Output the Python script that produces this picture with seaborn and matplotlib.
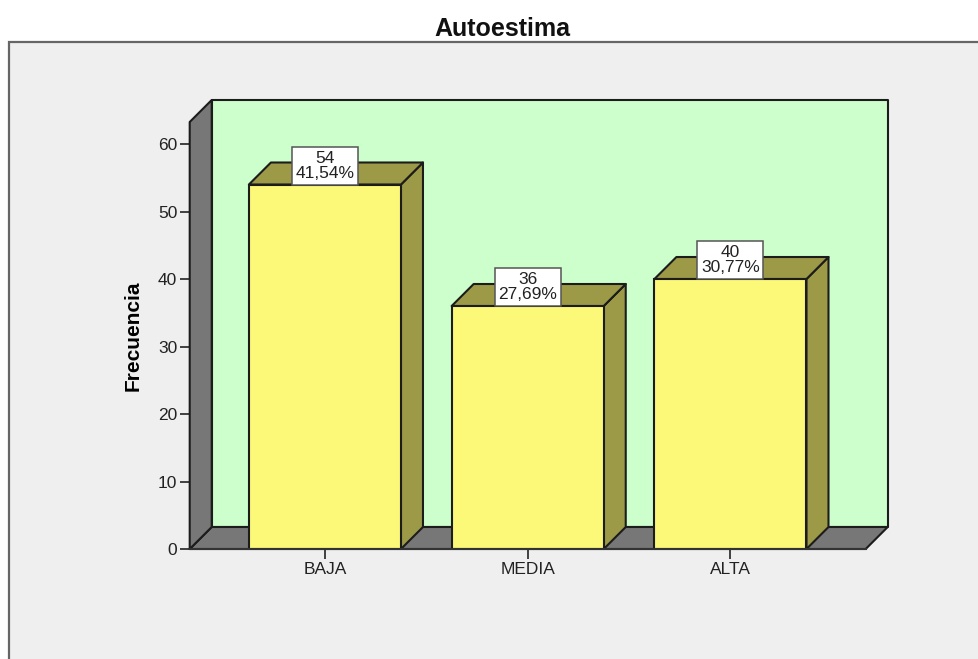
import matplotlib
matplotlib.use("Agg")
import matplotlib.pyplot as plt
import seaborn as sns
import pandas as pd
from matplotlib.patches import Polygon, Rectangle

categories = ["BAJA", "MEDIA", "ALTA"]
counts = [54, 36, 40]
percents = ["41,54%", "27,69%", "30,77%"]
y_ticks = [0, 10, 20, 30, 40, 50, 60]

W, H = 979, 659
DEPTH_PX = 22
BOX_W_PX, BOX_H_PX = 66, 38
EDGE = "#1c1c1c"
WALL = "#777777"
BACK = "#CCFFCC"
PANEL = "#EFEFEF"
BAR = "#FCF878"
SIDE = "#9C9A46"

sns.set_theme(style="white")
plt.rcParams["font.family"] = ["Liberation Sans", "DejaVu Sans"]

fig = plt.figure(figsize=(W / 100, H / 100), dpi=100, facecolor="white")
fig.add_artist(Rectangle((9 / W, -0.1), 1.1, 1.1 - 42 / H, transform=fig.transFigure,
                         facecolor=PANEL, edgecolor="#666666", linewidth=1.6, zorder=-5))
ax = fig.add_axes([189.7 / W, (H - 549) / H, 676 / W, 427 / H])
ax.patch.set_visible(False)

df = pd.DataFrame({"Autoestima": categories, "Frecuencia": counts})
sns.barplot(data=df, x="Autoestima", y="Frecuencia", color=BAR, saturation=1,
            width=0.75, edgecolor=EDGE, linewidth=1.5, zorder=5, ax=ax)

ax.set_xlim(-0.667, 2.667)
ax.set_ylim(0, 63.26)
ax.set_yticks(y_ticks)
ax.set_xlabel("")
ax.set_ylabel("Frecuencia", fontsize=15, fontweight="bold", color="black", labelpad=11)
ax.tick_params(axis="both", which="major", length=7, width=1.3, color="#333333",
               labelsize=12.5, labelcolor="#222222", pad=2, bottom=True, left=True)
for side in ["top", "right", "left"]:
    ax.spines[side].set_visible(False)
ax.spines["bottom"].set_color("#333333")
ax.spines["bottom"].set_linewidth(1.5)
ax.spines["bottom"].set_zorder(6)

# depth of the pseudo-3D effect, converted to data units
sx = 676 / (ax.get_xlim()[1] - ax.get_xlim()[0])
sy = 427 / (ax.get_ylim()[1] - ax.get_ylim()[0])
dx, dy = DEPTH_PX / sx, DEPTH_PX / sy
x0, x1 = ax.get_xlim()
y0, y1 = ax.get_ylim()


def poly(pts, fc, z):
    ax.add_patch(Polygon(pts, closed=True, facecolor=fc, edgecolor=EDGE,
                         linewidth=1.5, joinstyle="round", clip_on=False, zorder=z))


poly([(x0 + dx, y0 + dy), (x1 + dx, y0 + dy), (x1 + dx, y1 + dy), (x0 + dx, y1 + dy)], BACK, 1)
poly([(x0, y0), (x1, y0), (x1 + dx, y0 + dy), (x0 + dx, y0 + dy)], WALL, 2)
poly([(x0, y0), (x0 + dx, y0 + dy), (x0 + dx, y1 + dy), (x0, y1)], WALL, 2)

for bar, pct, n in zip(ax.patches[:len(counts)], percents, counts):
    l, r, top = bar.get_x(), bar.get_x() + bar.get_width(), bar.get_height()
    poly([(r, 0), (r + dx, dy), (r + dx, top + dy), (r, top)], SIDE, 3)
    poly([(l, top), (r, top), (r + dx, top + dy), (l + dx, top + dy)], SIDE, 3)
    cx = (l + r) / 2
    bw, bh = BOX_W_PX / sx, BOX_H_PX / sy
    ax.add_patch(Rectangle((cx - bw / 2, top), bw, bh, facecolor="white", edgecolor="#555555",
                           linewidth=1.1, clip_on=False, zorder=7))
    ax.text(cx, top + bh / 2, f"{n}\n{pct}", ha="center", va="center", fontsize=12.5,
            linespacing=1.0, color="#222222", zorder=8)

fig.text(502 / W, 1 - 29 / H, "Autoestima", ha="center", va="center", fontsize=18,
         fontweight="bold", color="#111111")

fig.savefig("out.png", dpi=100, facecolor="white")
